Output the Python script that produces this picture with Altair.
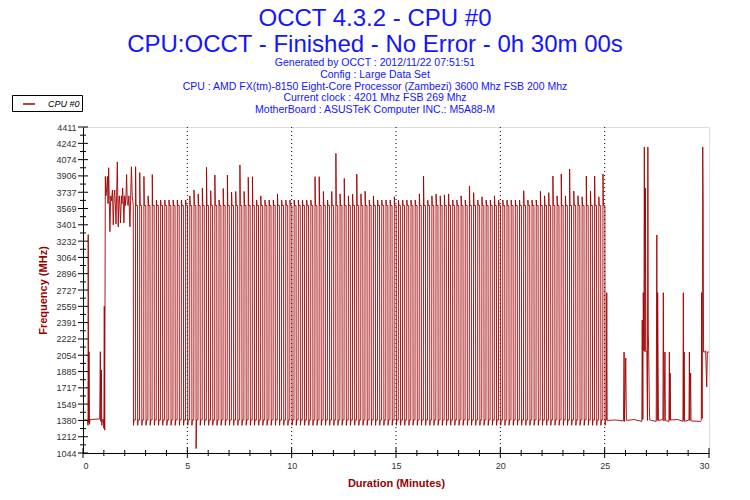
import altair as alt
import pandas as pd

# ---------------- text ----------------
title_lines = ["OCCT 4.3.2 - CPU #0", "CPU:OCCT - Finished - No Error - 0h 30m 00s"]
info_lines = [
    "Generated by OCCT : 2012/11/22 07:51:51",
    "Config : Large Data Set",
    "CPU : AMD FX(tm)-8150 Eight-Core Processor (Zambezi) 3600 Mhz FSB 200 Mhz",
    "Current clock : 4201 Mhz FSB 269 Mhz",
    "MotherBoard : ASUSTeK Computer INC.: M5A88-M",
]
series_name = "CPU #0"
x_title = "Duration (Minutes)"
y_title = "Frequency (MHz)"

# ---------------- axes ----------------
y_major = [1044, 1212, 1380, 1549, 1717, 1885, 2054, 2222, 2391, 2559, 2727,
           2896, 3064, 3232, 3401, 3569, 3737, 3906, 4074, 4242, 4411]
x_major = [0, 5, 10, 15, 20, 25, 30]
x_minor = [1, 2, 3, 4, 6, 7, 8, 9, 11, 12, 13, 14, 16, 17, 18, 19,
           21, 22, 23, 24, 26, 27, 28, 29]
x_grid = [5, 10, 15, 20, 25]

# ---------------- data (minutes, MHz) ----------------
# start of the run: idle, a few spikes, then noisy full load
lead_t = [0.00, 0.22, 0.24, 0.25, 0.27, 0.29, 0.31, 0.34, 0.80, 0.83, 0.85, 0.88,
          0.90, 0.93, 0.98, 1.00, 1.02, 1.04, 1.07, 1.10, 1.13, 1.17, 1.20, 1.23,
          1.26, 1.29, 1.33, 1.37, 1.41, 1.45, 1.49, 1.52, 1.55, 1.58, 1.61, 1.645,
          1.67, 1.69, 1.72, 1.74, 1.77, 1.80, 1.84, 1.87, 1.90, 1.93, 1.96, 2.00,
          2.03, 2.06, 2.09, 2.12, 2.16, 2.20, 2.25, 2.28, 2.32, 2.36, 2.39]
lead_v = [1385, 1385, 1330, 3300, 1360, 2090, 1340, 1390, 1395, 2090, 1370, 1900,
          1330, 1390, 1390, 1300, 2560, 1280, 3900, 3700, 3760, 3900, 3620, 3990,
          3650, 3330, 3700, 3650, 3760, 3400, 3700, 3760, 3620, 3410, 3700, 4050,
          3620, 3380, 3650, 3700, 3600, 3420, 3700, 3620, 3780, 3650, 3420, 3700,
          3600, 3700, 3920, 3640, 3600, 3700, 3380, 3650, 4000, 3700, 3640]

# on/off load cycles: drop times read as 2.41 min + 0.20 min per cycle
cycle_first_drop = 2.41
cycle_period = 0.20
high_plateau = 3600
low_plateau = 1385
dip_floor = 1330
dip_exceptions = {15: 1090}
# peak reached at the start of each high phase
cycle_peak = [4000, 3940, 3900, 3700, 3920, 3657, 3657, 3657, 3657, 3657,
              3657, 3657, 3657, 3700, 3760, 3720, 3780, 3995, 3753, 3915,
              3657, 3776, 3915, 3740, 3745, 4019, 3745, 3891, 3898, 3657,
              3700, 3657, 3657, 3657, 3720, 3657, 3657, 3657, 3657, 3657,
              3657, 3657, 3657, 3898, 3898, 3745, 3657, 3745, 4139, 3720,
              3880, 3700, 3717, 3925, 3720, 3747, 3657, 3700, 3657, 3657,
              3657, 3657, 3690, 3657, 3657, 3657, 3657, 3657, 3720, 3905,
              3657, 3700, 3718, 3700, 3710, 3720, 3657, 3657, 3700, 3657,
              3802, 3733, 3657, 3690, 3657, 3657, 3700, 3657, 3657, 3657,
              3657, 3657, 3657, 3753, 3657, 3657, 3657, 3747, 3700, 3733,
              3905, 3700, 3926, 3700, 3977, 3750, 3700, 3690, 3905, 3750,
              3905, 3690, 3926]

# end of the run: idle with bursts
tail_t = [25.08, 25.10, 25.12, 25.50, 25.90, 25.93, 25.95, 26.01, 26.04, 26.40,
          26.78, 26.80, 26.83, 26.85, 26.88, 26.90, 26.93, 26.95, 26.98, 27.02,
          27.05, 27.07, 27.09, 27.11, 27.14, 27.16, 27.47, 27.50, 27.52, 27.54,
          27.56, 27.58, 27.79, 27.81, 27.84, 27.89, 27.91, 28.08, 28.10, 28.12,
          28.14, 28.16, 28.50, 28.75, 28.77, 28.79, 28.81, 28.83, 29.04, 29.06,
          29.08, 29.12, 29.14, 29.60, 29.63, 29.65, 29.67, 29.70, 29.72, 29.74,
          29.80, 29.84, 29.89, 29.92, 30.00]
tail_v = [1385, 2700, 1380, 1385, 1375, 2087, 1370, 2025, 1380, 1390,
          1370, 2418, 1390, 2700, 2100, 4205, 2090, 3780, 2100, 2087,
          1380, 4205, 2283, 2087, 1540, 1385, 1370, 3296, 1380, 2700,
          1974, 1380, 1390, 2700, 1375, 2087, 1380, 1370, 2087, 1380,
          1870, 1385, 1390, 1370, 2700, 1380, 2087, 1370, 1385, 2087,
          1380, 1870, 1375, 1370, 1380, 2700, 1400, 4205, 3657, 2087,
          2087, 2100, 1726, 2087, 2087]

# ---------------- build table ----------------
pts = list(zip(lead_t, lead_v))
n_drops = len(cycle_peak) + 1
for k in range(n_drops):
    td = cycle_first_drop + k * cycle_period
    pts.append((td, high_plateau))
    pts.append((td + 0.01, dip_exceptions.get(k, dip_floor)))
    pts.append((td + 0.03, low_plateau))
    if k < len(cycle_peak):
        tr = td + cycle_period / 2
        pts.append((tr, low_plateau))
        pts.append((tr + 0.01, cycle_peak[k]))
        pts.append((tr + 0.03, high_plateau))
pts += list(zip(tail_t, tail_v))

df = pd.DataFrame(pts, columns=["t", "v"])
df["i"] = range(len(df))
df["s"] = series_name

y_minor = [(a + b) / 2 for a, b in zip(y_major[:-1], y_major[1:])]

xs = alt.Scale(domain=[0, 30], nice=False, zero=False)
ys = alt.Scale(domain=[1044, 4411], nice=False, zero=False)
axis_red = "#990000"


def X():
    return alt.X("t:Q", scale=xs, title=x_title,
                 axis=alt.Axis(values=x_major, ticks=False, grid=False, domainColor="black",
                               labelColor="#333333", labelFontSize=9, labelPadding=8,
                               labelFont="Liberation Sans", titleColor=axis_red,
                               titleFontSize=11, titleFont="Liberation Sans",
                               titleFontWeight="bold", titlePadding=7))


def Y():
    return alt.Y("v:Q", scale=ys, title=y_title,
                 axis=alt.Axis(values=y_major, ticks=False, grid=False, domainColor="black",
                               format="d", labelColor="#333333", labelFontSize=9,
                               labelPadding=7, labelFont="Liberation Sans",
                               titleColor=axis_red, titleFontSize=11,
                               titleFont="Liberation Sans", titleFontWeight="bold",
                               titlePadding=7))


line = alt.Chart(df).mark_line(strokeWidth=0.9, clip=True).encode(
    x=X(), y=Y(), order=alt.Order("i:Q"),
    color=alt.Color("s:N", scale=alt.Scale(range=["#A00000"]),
                    legend=alt.Legend(title=None, orient="none", legendX=-71, legendY=-32,
                                      fillColor="white", strokeColor="black", padding=2,
                                      symbolType="stroke", symbolSize=144,
                                      symbolStrokeWidth=1.5, symbolOffset=8,
                                      labelFontStyle="italic",
                                      labelFontSize=9, labelFont="Liberation Sans",
                                      labelColor="black", labelOffset=12, cornerRadius=0)),
)

grid = alt.Chart(pd.DataFrame({"t": x_grid})).mark_rule(
    color="black", strokeDash=[1, 3], strokeWidth=1).encode(x=X())

ymaj = alt.Chart(pd.DataFrame({"v": y_major})).mark_rule(color="black").encode(
    y=Y(), x=alt.value(-5), x2=alt.value(5))
ymin = alt.Chart(pd.DataFrame({"v": y_minor})).mark_rule(color="black").encode(
    y=Y(), x=alt.value(-3), x2=alt.value(3))
xmaj = alt.Chart(pd.DataFrame({"t": x_major})).mark_rule(color="black").encode(
    x=X(), y=alt.value(321), y2=alt.value(331))
xmin = alt.Chart(pd.DataFrame({"t": x_minor})).mark_rule(color="black").encode(
    x=X(), y=alt.value(323), y2=alt.value(329))

chart = alt.layer(grid, line, ymaj, ymin, xmaj, xmin).properties(
    width=626, height=326,
    padding={"left": 75, "top": 119, "right": 20, "bottom": 45},
    autosize=alt.AutoSizeParams(type="none"),
    title=alt.TitleParams(text=title_lines, subtitle=info_lines, anchor="middle",
                          dx=-21, offset=-21, font="Liberation Sans", fontSize=24,
                          fontWeight="normal", color="#1414FF", lineHeight=26,
                          subtitleFont="Liberation Sans", subtitleFontSize=10.5,
                          subtitleColor="#1414FF", subtitleLineHeight=11.7,
                          subtitlePadding=1),
).configure_view(fill="#FFF8E8", stroke="#808080", strokeWidth=1).configure(
    background="white")

chart.save("out.html", embed_options={"renderer": "svg", "actions": False})
